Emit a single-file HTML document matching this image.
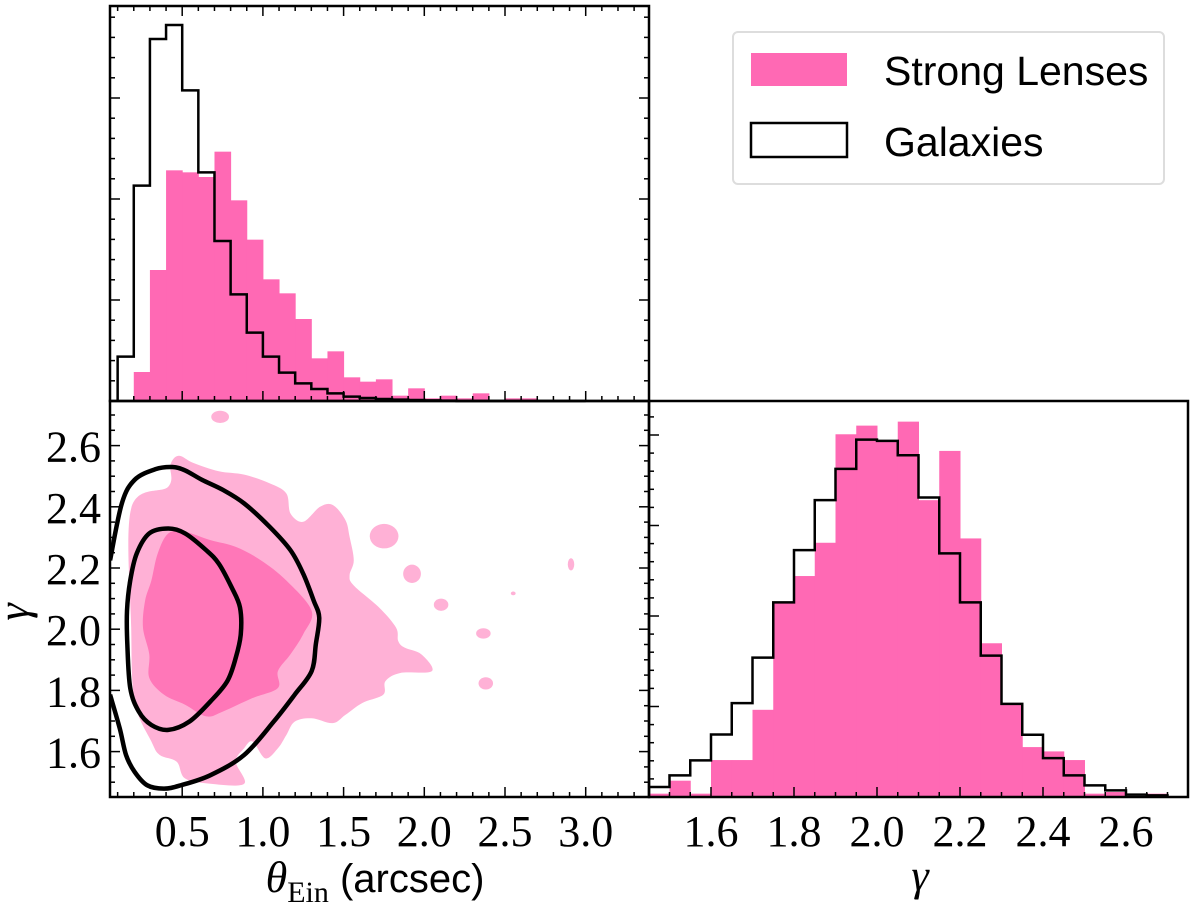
<!DOCTYPE html>
<html><head><meta charset="utf-8">
<style>
body{margin:0;background:#fff;}
svg{display:block;}
.tick{font-family:"Liberation Serif",serif;font-size:44px;fill:#000;}
.leg{font-family:"Liberation Sans",sans-serif;font-size:41px;fill:#000;}
</style></head>
<body>
<svg id="fig" width="1200" height="911" viewBox="0 0 1200 911" xmlns="http://www.w3.org/2000/svg">
<defs>
<clipPath id="clipBL"><rect x="110" y="401" width="539" height="396"/></clipPath>
</defs>
<g id="legend">
<rect x="733" y="32" width="431" height="152" rx="5" fill="#fff" stroke="#ddd" stroke-width="2"/>
<rect x="751" y="53" width="96" height="33" fill="#ff69b4"/>
<text class="leg" x="884" y="85">Strong Lenses</text>
<rect x="751" y="123" width="96" height="34" fill="#fff" stroke="#000" stroke-width="2.5"/>
<text class="leg" x="884" y="156">Galaxies</text>
</g>
<text class="tick" x="375" y="892" text-anchor="middle"><tspan font-style="italic">θ</tspan><tspan font-size="30" dy="10">Ein</tspan><tspan dy="-10" font-family="Liberation Sans, sans-serif" font-size="40"> (arcsec)</tspan></text>
<text class="tick" x="920" y="890" text-anchor="middle" font-style="italic">γ</text>
<text class="tick" x="28" y="612" text-anchor="middle" font-style="italic" transform="rotate(-90 28 612)">γ</text>
</svg>
<script>
// ---------- data ----------
const thetaBinStart = [0.1,0.2,0.3,0.4,0.5,0.6,0.7,0.8,0.9,1.0,1.1,1.2,1.3,1.4,1.5,1.6,1.7,1.8,1.9,2.0,2.1,2.2,2.3,2.4,2.5,2.6,2.7,2.8,2.9];
const thetaLenses = [3,87,393,692,686,672,748,602,484,365,323,246,128,149,71,58,65,16,38,8,16,8,23,3,8,8,3,3,2];
const thetaGalaxies = [133,646,1086,1128,932,686,480,320,205,133,85,53,36,23,13,9,6,4,3,2,1,0,0,0,0,0,0,0,0];
const gammaBinStart = [1.45,1.50,1.55,1.60,1.65,1.70,1.75,1.80,1.85,1.90,1.95,2.00,2.05,2.10,2.15,2.20,2.25,2.30,2.35,2.40,2.45,2.50,2.55,2.60,2.65];
const gammaLenses = [10,49,10,111,111,262,585,664,764,1090,1116,1067,1128,892,1040,777,462,277,150,137,111,10,15,2,10];
const gammaGalaxies = [30,65,110,188,282,419,585,742,892,986,1074,1070,1027,900,732,585,425,280,187,117,65,35,20,7,5];
const thetaTicks = [0.5,1.0,1.5,2.0,2.5,3.0];
const thetaTickLabels = ["0.5","1.0","1.5","2.0","2.5","3.0"];
const gammaTicks = [1.6,1.8,2.0,2.2,2.4,2.6];
const gammaTickLabels = ["1.6","1.8","2.0","2.2","2.4","2.6"];
// contours (theta, gamma)
const outerLightTheta = [0.184,0.414,0.427,0.479,0.570,0.727,0.884,1.041,1.145,1.171,1.250,1.354,1.433,1.511,1.537,1.563,1.537,1.563,1.720,1.825,1.838,1.877,1.981,2.047,1.851,1.759,1.746,1.616,1.511,1.433,1.302,1.197,1.145,1.093,1.015,0.936,0.884,0.832,0.884,0.675,0.518,0.466,0.361,0.309,0.205,0.184];
const outerLightGamma = [2.395,2.466,2.538,2.567,2.543,2.516,2.505,2.477,2.444,2.378,2.351,2.400,2.406,2.357,2.302,2.225,2.176,2.143,2.071,2.005,1.962,1.940,1.918,1.863,1.857,1.830,1.786,1.759,1.720,1.693,1.709,1.698,1.654,1.611,1.578,1.633,1.611,1.567,1.495,1.495,1.512,1.567,1.589,1.633,1.764,2.005];
const innerDarkTheta = [0.348,0.414,0.518,0.675,0.832,0.988,1.145,1.302,1.250,1.171,1.093,1.093,0.936,0.753,0.649,0.518,0.387,0.296,0.296,0.257,0.270,0.309];
const innerDarkGamma = [2.247,2.313,2.318,2.291,2.269,2.225,2.159,2.060,1.984,1.918,1.863,1.808,1.775,1.731,1.715,1.753,1.786,1.841,1.918,2.005,2.093,2.159];
const blobTheta = [0.735,1.751,1.924,2.104,2.366,2.381,2.551,2.909];
const blobGamma = [2.694,2.304,2.181,2.080,1.986,1.823,2.117,2.212];
const blobRTheta = [0.055,0.089,0.055,0.045,0.045,0.045,0.015,0.02];
const blobRGamma = [0.02,0.04,0.03,0.02,0.017,0.02,0.006,0.02];
const outerLineTheta = [0.053,0.126,0.205,0.335,0.440,0.518,0.623,0.753,0.884,1.041,1.171,1.250,1.315,1.349,1.328,1.302,1.197,1.067,0.884,0.675,0.492,0.387,0.283,0.205,0.152,0.113,0.053];
const outerLineGamma = [2.225,2.411,2.488,2.523,2.530,2.519,2.488,2.455,2.411,2.335,2.258,2.181,2.093,2.038,1.951,1.863,1.786,1.698,1.589,1.523,1.490,1.479,1.490,1.534,1.589,1.676,1.786];
const innerLineTheta = [0.414,0.518,0.649,0.727,0.806,0.858,0.863,0.832,0.779,0.675,0.544,0.414,0.309,0.231,0.178,0.160,0.158,0.178,0.218,0.296];
const innerLineGamma = [2.329,2.313,2.258,2.214,2.137,2.071,1.984,1.907,1.830,1.764,1.698,1.671,1.687,1.731,1.808,1.951,2.060,2.159,2.247,2.313];

// ---------- axes ----------
const NS="http://www.w3.org/2000/svg";
const svg=document.getElementById('fig');
const L=110,R1=649,R2=1188,T1=6,MID=401,B=797;
const xTheta=t=>101.5+t*161.4;
const yGamma=g=>629.2-(g-2.0)*306;
const xGamma=g=>877+(g-2.0)*415;
const yTopHist=h=>MID-h*(MID-T1)/1185;
const yRightHist=h=>B-h*(B-MID)/1190;
function mk(tag,attrs,parent){const e=document.createElementNS(NS,tag);for(const k in attrs)e.setAttribute(k,attrs[k]);(parent||svg).appendChild(e);return e;}

// top-left histogram
const gTL=mk('g',{});


thetaBinStart.forEach((s,i)=>{
  if(thetaLenses[i]<=0)return;
  const r=mk('rect',{x:xTheta(s),y:yTopHist(thetaLenses[i]),width:xTheta(s+0.1)-xTheta(s)+0.5,height:MID-yTopHist(thetaLenses[i]),fill:'#ff69b4'},gTL);
  
  
});
let d='M'+xTheta(thetaBinStart[0])+' '+MID;
thetaBinStart.forEach((s,i)=>{const y=yTopHist(thetaGalaxies[i]);d+=' L'+xTheta(s)+' '+y+' L'+xTheta(s+0.1)+' '+y;});
d+=' L'+xTheta(thetaBinStart[thetaBinStart.length-1]+0.1)+' '+MID;
const pTL=mk('path',{d:d,fill:'none',stroke:'#000','stroke-width':2.5},gTL);



// bottom-right histogram
const gBR=mk('g',{});


gammaBinStart.forEach((s,i)=>{
  const r=mk('rect',{x:xGamma(s),y:yRightHist(gammaLenses[i]),width:xGamma(s+0.05)-xGamma(s)+0.5,height:B-yRightHist(gammaLenses[i]),fill:'#ff69b4'},gBR);
  
  
});
d='M'+Math.max(xGamma(gammaBinStart[0]),R1+1)+' '+yRightHist(gammaGalaxies[0]);
gammaBinStart.forEach((s,i)=>{const y=yRightHist(gammaGalaxies[i]);d+=' L'+Math.max(xGamma(s),R1+1)+' '+y+' L'+xGamma(s+0.05)+' '+y;});
d+=' L'+xGamma(gammaBinStart[gammaBinStart.length-1]+0.05)+' '+B;
const pBR=mk('path',{d:d,fill:'none',stroke:'#000','stroke-width':2.5},gBR);



// bottom-left contours
function smooth(xs,ys,closed){
  const P=xs.map((t,i)=>[xTheta(t),yGamma(ys[i])]);const n=P.length;
  let s='M'+P[0][0]+' '+P[0][1];
  const get=i=>closed?P[(i+n)%n]:P[Math.max(0,Math.min(n-1,i))];
  const last=closed?n:n-1;
  for(let i=0;i<last;i++){
    const p0=get(i-1),p1=get(i),p2=get(i+1),p3=get(i+2);
    s+=' C'+(p1[0]+(p2[0]-p0[0])/6)+' '+(p1[1]+(p2[1]-p0[1])/6)+' '+(p2[0]-(p3[0]-p1[0])/6)+' '+(p2[1]-(p3[1]-p1[1])/6)+' '+p2[0]+' '+p2[1];
  }
  return s+(closed?' Z':'');
}
const gBL=mk('g',{'clip-path':'url(#clipBL)'});


const c1=mk('path',{d:smooth(outerLightTheta,outerLightGamma,true),fill:'#ffb1d6'},gBL);


blobTheta.forEach((t,i)=>{
  const e=mk('ellipse',{cx:xTheta(t),cy:yGamma(blobGamma[i]),rx:blobRTheta[i]*161.4,ry:blobRGamma[i]*306,fill:'#ffb1d6'},gBL);
  
  
});
const c2=mk('path',{d:smooth(innerDarkTheta,innerDarkGamma,true),fill:'#ff77b8'},gBL);


const c3=mk('path',{d:smooth(outerLineTheta,outerLineGamma,false),fill:'none',stroke:'#000','stroke-width':4.5},gBL);


const c4=mk('path',{d:smooth(innerLineTheta,innerLineGamma,true),fill:'none',stroke:'#000','stroke-width':4.5},gBL);



// frames and ticks
function line(x1,y1,x2,y2,w,name){const l=mk('line',{x1,y1,x2,y2,stroke:'#000','stroke-width':w});return l;}
function frame(x,y,w,h,name){const r=mk('rect',{x,y,width:w,height:h,fill:'none',stroke:'#000','stroke-width':2.5});}
frame(L,T1,R1-L,MID-T1,'theta-histogram-frame');
frame(L,MID,R1-L,B-MID,'joint-panel-frame');
frame(R1,MID,R2-R1,B-MID,'gamma-histogram-frame');
for(let k=1;k<=33;k++){const t=k/10,x=xTheta(t);if(x<=L||x>=R1)continue;const maj=(k%5===0);const len=maj?10:5;
  line(x,MID,x,MID-len,1.5,'theta-tick');line(x,T1,x,T1+len,1.5,'theta-tick');
  line(x,B,x,B-len,1.5,'theta-tick');}
for(let i=0;i<thetaTicks.length;i++){const t=mk('text',{x:xTheta(thetaTicks[i]),y:846,'text-anchor':'middle',class:'tick'});t.textContent=thetaTickLabels[i];}
for(let k=30;k<=55;k++){const g=k/20,y=yGamma(g);if(y<=MID||y>=B)continue;const maj=(k%4===0);const len=maj?10:5;
  line(L,y,L+len,y,1.5,'gamma-y-tick');line(R1,y,R1-len,y,1.5,'gamma-y-tick');}
for(let i=0;i<gammaTicks.length;i++){const t=mk('text',{x:101,y:yGamma(gammaTicks[i])+16,'text-anchor':'end',class:'tick'});t.textContent=gammaTickLabels[i];}
for(let k=30;k<=55;k++){const g=k/20,x=xGamma(g);if(x<=R1+2||x>=R2)continue;const maj=(k%4===0);const len=maj?10:5;line(x,B,x,B-len,1.5,'gamma-x-tick');}
for(let i=0;i<gammaTicks.length;i++){const t=mk('text',{x:xGamma(gammaTicks[i]),y:846,'text-anchor':'middle',class:'tick'});t.textContent=gammaTickLabels[i];}
for(let k=1;k<20;k++){const y=MID-k*20.2;if(y<=T1)continue;const len=(k%5===0)?10:5;line(L,y,L+len,y,1.5,'count-tick');line(R1,y,R1-len,y,1.5,'count-tick');}
for(let k=1;k<22;k++){const y=B-k*18.1;if(y<=MID)continue;const len=(k%5===0)?10:5;line(R1,y,R1+len,y,1.5,'count-tick');}
</script>
</body></html>
